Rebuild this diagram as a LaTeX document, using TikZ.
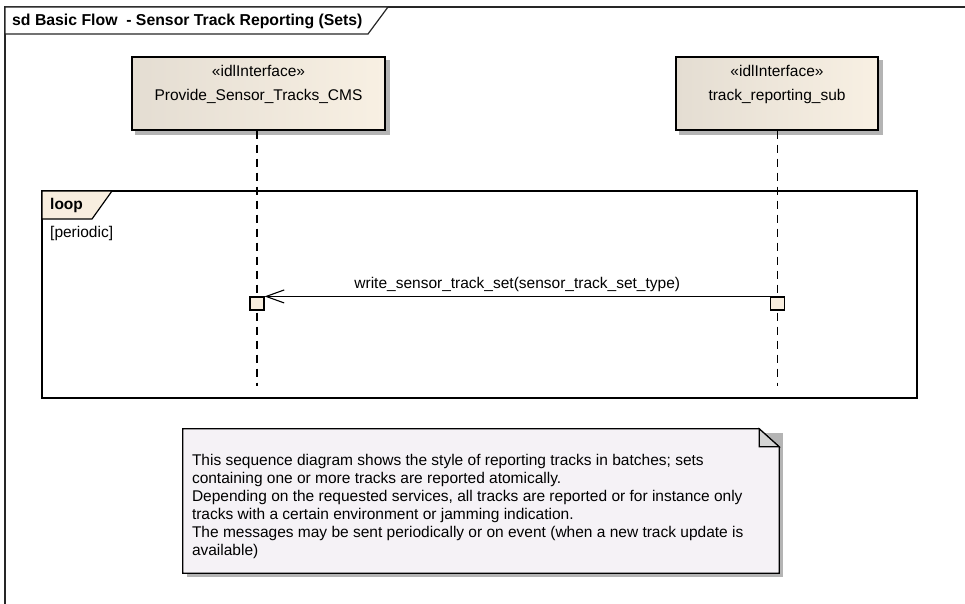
\documentclass[tikz,border=0pt]{standalone}
\usepackage{fontspec}
\setmainfont{Liberation Sans}
\usetikzlibrary{arrows.meta,positioning}

\definecolor{boxleft}{HTML}{E4DDD2}
\definecolor{boxright}{HTML}{F8F0E3}
\definecolor{actfill}{HTML}{F8EEDF}
\definecolor{notefill}{HTML}{F5F2F6}
\definecolor{foldfill}{HTML}{D4D4D4}
\definecolor{shadowgray}{HTML}{B4B4B4}

\begin{document}
\begin{tikzpicture}[x=1pt, y=1pt,
      frame/.style={draw=black!85, line width=1.2pt},
      lifebox/.style={rectangle, draw=black, line width=1.2pt,
                      left color=boxleft, right color=boxright,
                      minimum height=73pt, inner sep=0pt},
      boxtext/.style={align=center, inner sep=0pt, font=\fontsize{15.5}{18}\selectfont},
      lifeline/.style={line width=1.2pt, dash pattern=on 8pt off 6pt},
      act/.style={rectangle, draw=black, line width=1.1pt, fill=actfill,
                  minimum width=14pt, minimum height=13pt, inner sep=0pt},
      msg/.style={-{Straight Barb[length=18pt, width=13pt, line width=1.1pt]}, line width=1.1pt},
      label/.style={inner sep=0pt, font=\fontsize{15.5}{18}\selectfont},
      notetext/.style={align=left, inner sep=0pt, font=\fontsize{15.5}{18}\selectfont},
      shadow/.style={fill=shadowgray}
    ]
    \useasboundingbox (0,0) rectangle (965,-604);

    % diagram frame
    \draw[frame] (965,-7) -- (5,-7) -- (5,-604);
    \draw[frame, fill=white] (5,-7) -- (388,-7) -- (368,-34) -- (5,-34) -- cycle;
    \node[label, font=\fontsize{15.8}{18}\selectfont\bfseries, anchor=west] (title) at (12,-21)
      {sd Basic Flow~ - Sensor Track Reporting (Sets)};

    % lifelines
    \node[lifebox, minimum width=253pt] (cms) at (258.5,-93.5) {};
    \node[lifebox, minimum width=202pt] (sub) at (777,-93.5) {};
    \fill[shadow] ([shift={(4pt,-4pt)}]cms.south west) rectangle ([shift={(4pt,-4pt)}]cms.north east);
    \fill[shadow] ([shift={(4pt,-4pt)}]sub.south west) rectangle ([shift={(4pt,-4pt)}]sub.north east);
    \node[lifebox, minimum width=253pt] at (cms) {};
    \node[lifebox, minimum width=202pt] at (sub) {};
    \node[boxtext, below=9pt of cms.north] {«idlInterface»\\[6pt]Provide\_Sensor\_Tracks\_CMS};
    \node[boxtext, below=9pt of sub.north] {«idlInterface»\\[6pt]track\_reporting\_sub};

    \coordinate (cmsend) at (257,-386);
    \coordinate (subend) at (777.5,-386);
    \draw[lifeline] (cms.south -| cmsend) -- (cmsend);
    \draw[lifeline] (sub.south -| subend) -- (subend);

    % loop fragment
    \draw[frame, draw=black] (42,-191) rectangle (917,-398);
    \draw[frame, draw=black, fill=actfill] (42,-191) -- (112,-191) -- (92,-219) -- (42,-219) -- cycle;
    \node[label, font=\fontsize{15.5}{18}\selectfont\bfseries, anchor=west] (loop) at (50,-205) {loop};
    \node[label, anchor=west] (guard) at (50,-233) {[periodic]};

    % message
    \node[act] (actcms) at (257,-303.5) {};
    \node[act] (actsub) at (777.5,-303.5) {};
    \draw[msg] (actsub.north west) -- (actcms.north east)
      node[label, midway, above=4pt] {write\_sensor\_track\_set(sensor\_track\_set\_type)};

    % note
    \node[minimum width=596pt, minimum height=144pt, inner sep=0pt] (note) at (481,-501) {};
    \fill[shadow] ([shift={(4pt,-4pt)}]note.south west) rectangle ([shift={(4pt,-4pt)}]note.north east);
    \draw[frame, draw=black, fill=notefill] (note.south west) -- (note.north west)
      -- ([xshift=-20pt]note.north east) -- ([yshift=-18pt]note.north east)
      -- (note.south east) -- cycle;
    \draw[frame, draw=black, fill=foldfill] ([xshift=-20pt]note.north east)
      -- ([yshift=-18pt]note.north east) -- ([shift={(-20pt,-18pt)}]note.north east) -- cycle;
    \node[notetext, anchor=north west] (notebody) at ([shift={(9pt,-25pt)}]note.north west)
      {This sequence diagram shows the style of reporting tracks in batches; sets\\
       containing one or more tracks are reported atomically.\\
       Depending on the requested services, all tracks are reported or for instance only\\
       tracks with a certain environment or jamming indication.\\
       The messages may be sent periodically or on event (when a new track update is\\
       available)};
  \end{tikzpicture}
\end{document}
